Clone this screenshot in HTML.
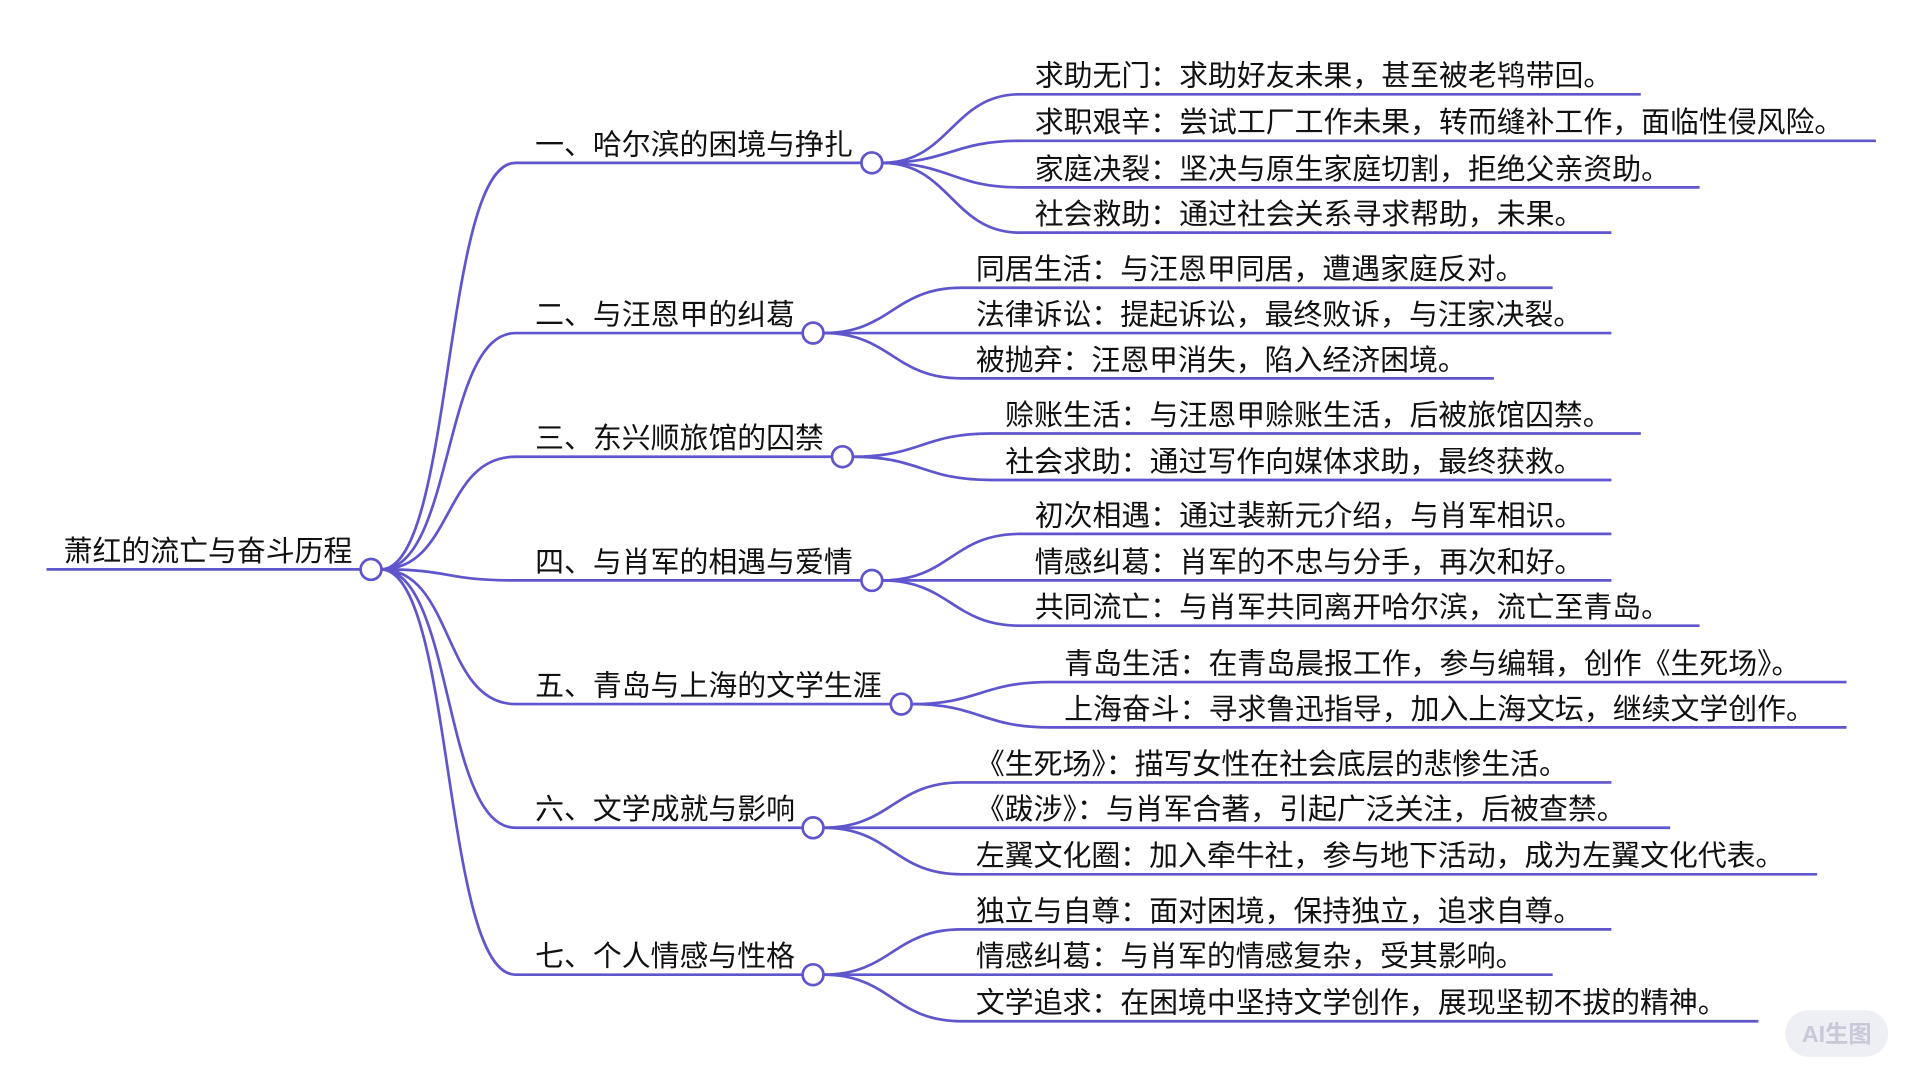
<!DOCTYPE html>
<html><head><meta charset="utf-8"><style>
html,body{margin:0;padding:0;background:#fff;width:1920px;height:1080px;overflow:hidden}
text{font-family:"Liberation Sans","Noto Sans CJK SC",sans-serif;font-size:23.6px;fill:#111}
</style></head><body>
<svg width="1920" height="1080" viewBox="0 0 1568 882" xmlns="http://www.w3.org/2000/svg">
<g fill="none" stroke="#5f55cc" stroke-width="2.2" id="lines"></g>
<g id="circ"></g>
<g id="txt"></g>
<rect x="1458" y="825" width="84" height="38" rx="19" fill="#eeeef5"/>
<text x="1500" y="851" text-anchor="middle" style="font-size:19px;fill:#c8c8d8;font-weight:bold">AI生图</text>
</svg>
<script>
const NS="http://www.w3.org/2000/svg";
const L=document.getElementById('lines'),C=document.getElementById('circ'),T=document.getElementById('txt');
function path(d){const p=document.createElementNS(NS,'path');p.setAttribute('d',d);L.appendChild(p);}
function circ(x,y){const c=document.createElementNS(NS,'circle');c.setAttribute('cx',x);c.setAttribute('cy',y);c.setAttribute('r',8.5);c.setAttribute('fill','#fff');c.setAttribute('stroke','#5f55cc');c.setAttribute('stroke-width','2.2');C.appendChild(c);}
function text(x,y,s){const t=document.createElementNS(NS,'text');t.setAttribute('x',x);t.setAttribute('y',y);t.textContent=s;T.appendChild(t);}
const root={x:303,y:465};
path(`M38 ${root.y} H${root.x}`);
text(52,458,'萧红的流亡与奋斗历程');
const B=[
{t:'一、哈尔滨的困境与挣扎',y:133,cx:712,lx:845,leaves:[['求助无门：求助好友未果，甚至被老鸨带回。',77,1340],['求职艰辛：尝试工厂工作未果，转而缝补工作，面临性侵风险。',115,1532],['家庭决裂：坚决与原生家庭切割，拒绝父亲资助。',153,1388],['社会救助：通过社会关系寻求帮助，未果。',190,1316]]},
{t:'二、与汪恩甲的纠葛',y:272,cx:664,lx:797,leaves:[['同居生活：与汪恩甲同居，遭遇家庭反对。',235,1268],['法律诉讼：提起诉讼，最终败诉，与汪家决裂。',272,1316],['被抛弃：汪恩甲消失，陷入经济困境。',309,1220]]},
{t:'三、东兴顺旅馆的囚禁',y:373,cx:688,lx:821,leaves:[['赊账生活：与汪恩甲赊账生活，后被旅馆囚禁。',354,1340],['社会求助：通过写作向媒体求助，最终获救。',392,1316]]},
{t:'四、与肖军的相遇与爱情',y:474,cx:712,lx:845,leaves:[['初次相遇：通过裴新元介绍，与肖军相识。',436,1316],['情感纠葛：肖军的不忠与分手，再次和好。',474,1316],['共同流亡：与肖军共同离开哈尔滨，流亡至青岛。',511,1388]]},
{t:'五、青岛与上海的文学生涯',y:575,cx:736,lx:869,leaves:[['青岛生活：在青岛晨报工作，参与编辑，创作《生死场》。',557,1508],['上海奋斗：寻求鲁迅指导，加入上海文坛，继续文学创作。',594,1508]]},
{t:'六、文学成就与影响',y:676,cx:664,lx:797,leaves:[['《生死场》：描写女性在社会底层的悲惨生活。',639,1316],['《跋涉》：与肖军合著，引起广泛关注，后被查禁。',676,1364],['左翼文化圈：加入牵牛社，参与地下活动，成为左翼文化代表。',714,1484]]},
{t:'七、个人情感与性格',y:796,cx:664,lx:797,leaves:[['独立与自尊：面对困境，保持独立，追求自尊。',759,1316],['情感纠葛：与肖军的情感复杂，受其影响。',796,1268],['文学追求：在困境中坚持文学创作，展现坚韧不拔的精神。',834,1436]]}
];
for(const b of B){
  const sx=root.x+8,ex=421;
  path(`M${sx} ${root.y} C${sx+60} ${root.y} ${ex-60} ${b.y} ${ex} ${b.y} H${b.cx-8.5}`);
  text(437,b.y-7,b.t);
  for(const [s,y,e] of b.leaves){
    const a=b.cx+8.5,z=b.cx+121;
    path(`M${a} ${b.y} C${a+55} ${b.y} ${z-55} ${y} ${z} ${y} H${e}`);
    text(b.lx,y-7,s);
  }
  circ(b.cx,b.y);
}
circ(root.x,root.y);
</script>
</body></html>
